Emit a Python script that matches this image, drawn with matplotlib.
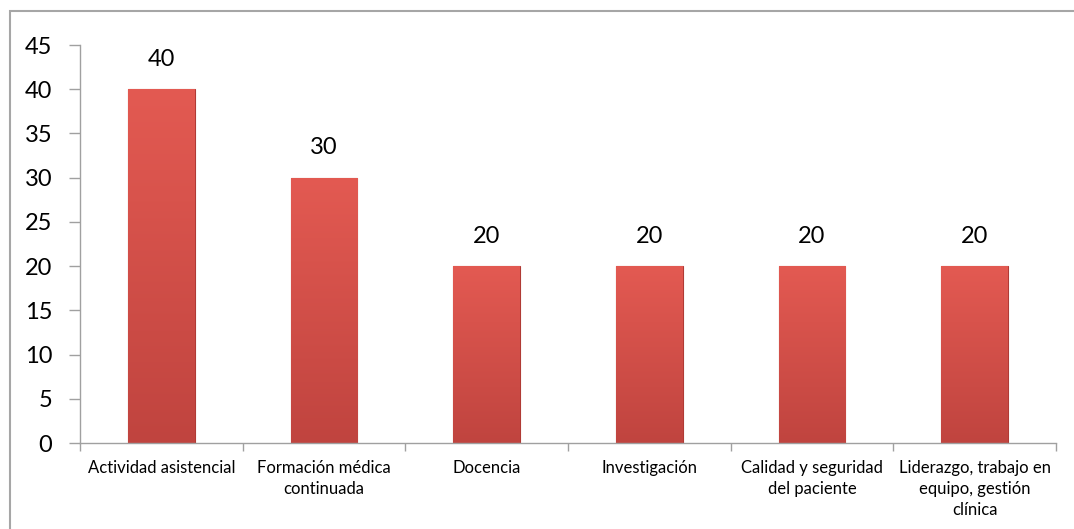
import numpy as np
import matplotlib
matplotlib.use("Agg")
import matplotlib.pyplot as plt
from matplotlib.colors import LinearSegmentedColormap
from matplotlib.patches import Rectangle

categories = ["Actividad asistencial", "Formación médica\ncontinuada", "Docencia",
              "Investigación", "Calidad y seguridad\ndel paciente",
              "Liderazgo, trabajo en\nequipo, gestión\nclínica"]
values = [40, 30, 20, 20, 20, 20]
yticks = [0, 5, 10, 15, 20, 25, 30, 35, 40, 45]

plt.rcParams['font.family'] = ['Lato', 'DejaVu Sans']

fig = plt.figure(figsize=(10.74, 5.29), dpi=100)
fig.patches.append(Rectangle((10 / 1074, -0.01), 1.1, 1 - 11 / 529 + 0.01,
                             transform=fig.transFigure, fill=False,
                             edgecolor="#a6a6a6", linewidth=1.5))
ax = fig.add_axes([80 / 1074, 1 - 443 / 529, 976 / 1074, 398 / 529])

x = np.arange(len(categories))
width = 0.41
bars = ax.bar(x, values, width=width, color="#d9514a", edgecolor="#b03a35",
              linewidth=0.8, zorder=2)

# vertical gradient inside each bar
cmap = LinearSegmentedColormap.from_list("red", ["#c0443f", "#e35a52"])
grad = np.linspace(0, 1, 256).reshape(-1, 1)
for b in bars:
    im = ax.imshow(grad, cmap=cmap, aspect="auto", origin="lower",
                   extent=[b.get_x(), b.get_x() + b.get_width(), 0, b.get_height()],
                   zorder=2.5)
    im.set_clip_path(b)
    ax.text(b.get_x() + b.get_width() / 2, b.get_height() + 2.2, str(int(b.get_height())),
            ha="center", va="bottom", fontsize=17)

ax.set_xlim(-0.5, len(categories) - 0.5)
ax.set_ylim(0, 45)
ax.set_yticks(yticks)
ax.tick_params(axis="y", labelsize=17, length=8, color="#a0a0a0", width=1, pad=12)
ax.set_xticks(x)
ax.set_xticklabels(categories, fontsize=12, linespacing=1.4)
ax.tick_params(axis="x", length=0, pad=12)
ax.set_xticks(np.arange(len(categories) + 1) - 0.5, minor=True)
ax.tick_params(axis="x", which="minor", length=6, color="#a0a0a0", width=1)

for side in ["top", "right"]:
    ax.spines[side].set_visible(False)
for side in ["left", "bottom"]:
    ax.spines[side].set_color("#a0a0a0")
    ax.spines[side].set_linewidth(1)

fig.savefig("out.png", dpi=100)
